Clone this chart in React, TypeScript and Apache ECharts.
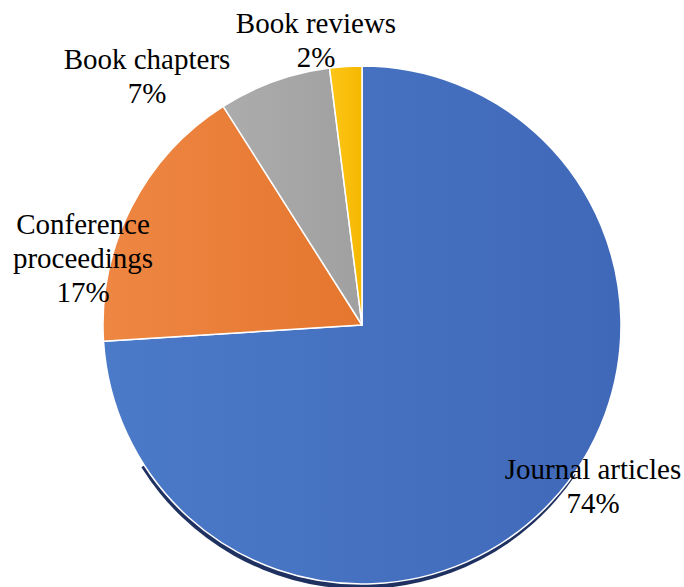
import React, { useEffect, useRef } from "react";
import * as echarts from "echarts";

const categories = ["Journal articles", "Conference proceedings", "Book chapters", "Book reviews"];
const values = [74, 17, 7, 2];
const colorStops = [
  ["#4b7ac9", "#4068b8"],
  ["#ee8743", "#e5762e"],
  ["#acacac", "#a0a0a0"],
  ["#ffc619", "#f4b800"],
];
const labelCenters = [
  [593, 486],
  [83, 258],
  [147, 76],
  [316, 40],
];
const labelWrap = [false, true, false, false];

export default function App() {
  const ref = useRef<HTMLDivElement>(null);
  useEffect(() => {
    document.body.style.margin = "0";
    const chart = echarts.init(ref.current!, undefined, { renderer: "svg" });
    const font = "Liberation Serif";
    chart.setOption({
      animation: false,
      backgroundColor: "#ffffff",
      series: [
        {
          type: "pie",
          silent: true,
          z: 1,
          center: [361, 330],
          radius: 259,
          startAngle: 326,
          clockwise: true,
          label: { show: false },
          labelLine: { show: false },
          data: [
            { value: 114, itemStyle: { color: "#1f3160" } },
            { value: 246, itemStyle: { color: "rgba(0,0,0,0)" } },
          ],
        },
        {
          type: "pie",
          z: 2,
          center: [362, 325],
          radius: 259,
          startAngle: 90,
          clockwise: true,
          itemStyle: { borderColor: "#ffffff", borderWidth: 1.5 },
          labelLine: { show: false },
          label: {
            show: true,
            position: "inside",
            color: "#000000",
            fontFamily: font,
            fontSize: 29,
            lineHeight: 34,
            align: "center",
            overflow: "none",
            formatter: (p: any) => {
              const name = labelWrap[p.dataIndex] ? p.name.replace(" ", "\n") : p.name;
              return `${name}\n${Math.round(p.percent)}%`;
            },
          },
          labelLayout: (p: any) => ({
            x: labelCenters[p.dataIndex][0],
            y: labelCenters[p.dataIndex][1],
            align: "center",
            verticalAlign: "middle",
          }),
          data: categories.map((name, i) => ({
            name,
            value: values[i],
            itemStyle: {
              color: new echarts.graphic.LinearGradient(0, 0, 1, 0, [
                { offset: 0, color: colorStops[i][0] },
                { offset: 1, color: colorStops[i][1] },
              ]),
            },
          })),
        },
      ],
    });
    return () => chart.dispose();
  }, []);
  return <div ref={ref} style={{ width: 684, height: 587 }} />;
}
